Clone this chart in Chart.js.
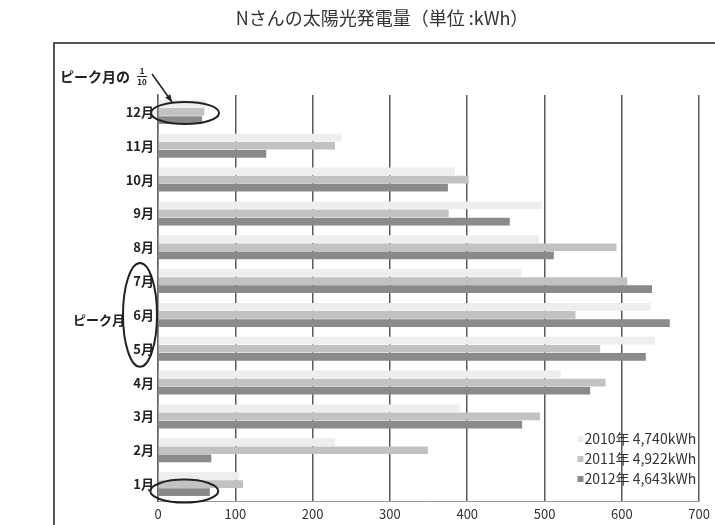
<!DOCTYPE html>
<html lang="ja">
<head>
<meta charset="utf-8">
<title>Nさんの太陽光発電量</title>
<script src="https://cdn.jsdelivr.net/npm/chart.js@4.4.1/dist/chart.umd.min.js"></script>
<style>
  html, body { margin: 0; padding: 0; background: #fff; }
  canvas { display: block; }
</style>
</head>
<body>
<canvas id="c" width="715" height="525"></canvas>
<script>
// Monthly solar generation (kWh) for three years
const months = ['1月', '2月', '3月', '4月', '5月', '6月', '7月', '8月', '9月', '10月', '11月', '12月'];
const gen2010 = [105, 229, 390, 521, 643, 637, 470, 493, 497, 384, 237, 62];
const gen2011 = [110, 349, 494, 579, 572, 540, 607, 593, 376, 402, 229, 60];
const gen2012 = [67, 69, 471, 559, 631, 662, 639, 512, 455, 375, 140, 57];
const yearLabels = ['2010年', '2011年', '2012年'];
const yearTotals = ['4,740kWh', '4,922kWh', '4,643kWh'];
const xTicks = [0, 100, 200, 300, 400, 500, 600, 700];
const titleText = 'Nさんの太陽光発電量（単位 :kWh）';

const FONT = "'Noto Sans CJK JP', 'Noto Sans', sans-serif";
const barColors = ['#eeeeee', '#c2c2c2', '#8a8a8a'];

const decorations = {
  id: 'decorations',
  beforeDraw(chart) {
    const ctx = chart.ctx;
    ctx.save();
    ctx.fillStyle = '#fff';
    ctx.fillRect(0, 0, chart.width, chart.height);
    // outer frame of the figure
    ctx.strokeStyle = '#555';
    ctx.lineWidth = 2;
    ctx.beginPath();
    ctx.moveTo(54, chart.height + 5);
    ctx.lineTo(54, 43);
    ctx.lineTo(chart.width + 5, 43);
    ctx.stroke();
    // title
    ctx.fillStyle = '#333';
    ctx.font = '18px ' + FONT;
    ctx.textAlign = 'center';
    ctx.textBaseline = 'middle';
    ctx.fillText(titleText, 382, 18);
    ctx.restore();
  },
  afterDraw(chart) {
    const ctx = chart.ctx;
    const xs = chart.scales.x, ys = chart.scales.y;
    ctx.save();

    // legend (bottom right, inside the plot)
    ctx.font = '14px ' + FONT;
    ctx.textAlign = 'right';
    ctx.textBaseline = 'middle';
    const legendRight = xs.right - 3;
    const rows = [439, 459, 479];
    chart.data.datasets.forEach((ds, i) => {
      const text = yearLabels[i] + ' ' + yearTotals[i];
      ctx.fillStyle = '#333';
      ctx.fillText(text, legendRight, rows[i]);
      const w = ctx.measureText(text).width;
      ctx.fillStyle = ds.backgroundColor;
      ctx.fillRect(legendRight - w - 7, rows[i] - 3, 6, 6);
    });

    // ellipses marking the smallest months
    ctx.strokeStyle = '#222';
    ctx.lineWidth = 2;
    const yDec = ys.getPixelForValue(11);
    const yJan = ys.getPixelForValue(0);
    ctx.beginPath();
    ctx.ellipse(xs.getPixelForValue(35), yDec + 1, 34, 11, 0, 0, Math.PI * 2);
    ctx.stroke();
    ctx.beginPath();
    ctx.ellipse(xs.getPixelForValue(34), yJan + 7, 34, 11.5, 0, 0, Math.PI * 2);
    ctx.stroke();

    // ellipse around the peak month labels
    const yJul = ys.getPixelForValue(6), yMay = ys.getPixelForValue(4);
    ctx.beginPath();
    ctx.ellipse(140, (yJul + yMay) / 2, 17, (yMay - yJul) / 2 + 18, 0, 0, Math.PI * 2);
    ctx.stroke();

    ctx.fillStyle = '#222';
    ctx.font = 'bold 13px ' + FONT;
    ctx.textAlign = 'right';
    ctx.fillText('ピーク月', 125, (yJul + yMay) / 2 + 5);

    // "peak month 1/10" note with arrow
    ctx.font = 'bold 14px ' + FONT;
    ctx.textAlign = 'left';
    ctx.fillText('ピーク月の', 60, 77);
    ctx.font = 'bold 8px ' + FONT;
    ctx.textAlign = 'center';
    ctx.fillText('1', 142, 71);
    ctx.fillText('10', 142, 82);
    ctx.lineWidth = 1;
    ctx.beginPath();
    ctx.moveTo(137, 76.5);
    ctx.lineTo(147, 76.5);
    ctx.stroke();

    ctx.lineWidth = 1.5;
    const ax0 = 152, ay0 = 74, ax1 = 172, ay1 = 102;
    ctx.beginPath();
    ctx.moveTo(ax0, ay0);
    ctx.lineTo(ax1, ay1);
    ctx.stroke();
    const ang = Math.atan2(ay1 - ay0, ax1 - ax0);
    ctx.beginPath();
    ctx.moveTo(ax1, ay1);
    ctx.lineTo(ax1 - 8 * Math.cos(ang - 0.4), ay1 - 8 * Math.sin(ang - 0.4));
    ctx.lineTo(ax1 - 8 * Math.cos(ang + 0.4), ay1 - 8 * Math.sin(ang + 0.4));
    ctx.closePath();
    ctx.fill();

    ctx.restore();
  }
};

new Chart(document.getElementById('c'), {
  type: 'bar',
  data: {
    labels: months,
    datasets: [
      { label: yearLabels[0], data: gen2010, backgroundColor: barColors[0] },
      { label: yearLabels[1], data: gen2011, backgroundColor: barColors[1] },
      { label: yearLabels[2], data: gen2012, backgroundColor: barColors[2] }
    ]
  },
  options: {
    indexAxis: 'y',
    responsive: false,
    animation: false,
    devicePixelRatio: 1,
    layout: { padding: { left: 54, right: 15, top: 95, bottom: 0 } },
    datasets: { bar: { categoryPercentage: 0.72, barPercentage: 0.95 } },
    plugins: { legend: { display: false }, title: { display: false }, tooltip: { enabled: false } },
    scales: {
      x: {
        min: 0, max: 700,
        afterBuildTicks: (s) => { s.ticks = xTicks.map(v => ({ value: v })); },
        afterFit: (s) => { s.height = 24; },
        grid: { color: '#5a5a5a', lineWidth: 1.5, drawTicks: false },
        border: { display: true, color: '#999', width: 1 },
        ticks: { padding: 5, color: '#333', font: { family: FONT, size: 13 } }
      },
      y: {
        reverse: true,
        afterFit: (s) => { s.width = 104; },
        grid: { display: false, drawTicks: false },
        border: { display: true, color: '#666', width: 1.5 },
        ticks: { padding: 4, color: '#222', font: { family: FONT, size: 13, weight: 'bold' } }
      }
    }
  },
  plugins: [decorations]
});
</script>
</body>
</html>
